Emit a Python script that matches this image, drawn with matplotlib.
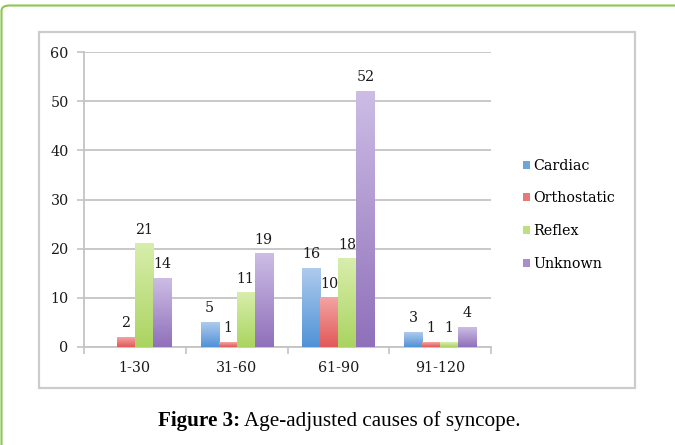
import numpy as np
import matplotlib
matplotlib.use('Agg')
import matplotlib.pyplot as plt
from matplotlib.patches import Patch, FancyBboxPatch, Rectangle
from matplotlib.colors import LinearSegmentedColormap

# data
groups = ['1-30', '31-60', '61-90', '91-120']
series = ['Cardiac', 'Orthostatic', 'Reflex', 'Unknown']
cardiac = [0, 5, 16, 3]
orthostatic = [2, 1, 10, 1]
reflex = [21, 11, 18, 1]
unknown = [14, 19, 52, 4]
values = [cardiac, orthostatic, reflex, unknown]

# bottom (dark) and top (light) colour of every series
dark = ['#5092d6', '#e25858', '#aad460', '#8f70ba']
light = ['#aecbee', '#f3a4a4', '#d8eeac', '#cdbde5']
mid = ['#6fa3dc', '#e97878', '#bddf80', '#a68fcb']

W, H = 675, 445
fig = plt.figure(figsize=(W / 100, H / 100), dpi=100)


def fx(px):
    return px / W


def fy(py):
    return 1 - py / H


# green frame (top and left only visible) and grey chart box
frame = FancyBboxPatch((fx(1.5), fy(470)), fx(720), fy(5.5) - fy(470),
                       boxstyle='round,pad=0,rounding_size=0.012',
                       transform=fig.transFigure, fill=False,
                       edgecolor='#8cc84b', linewidth=1.5, zorder=0)
fig.patches.append(frame)
box = Rectangle((fx(39), fy(388)), fx(635) - fx(39), fy(32) - fy(388),
                transform=fig.transFigure, fill=False,
                edgecolor='#cccccc', linewidth=1.6, zorder=0)
fig.patches.append(box)

ax = fig.add_axes([fx(84), fy(347), fx(491) - fx(84), fy(52) - fy(347)])
ax.set_facecolor('none')

x = np.arange(len(groups))
w = 0.177
grad = np.linspace(0, 1, 256).reshape(-1, 1)
tick_font = dict(family='DejaVu Serif', size=10.3, color='#1a1a1a')

for i, (name, vals) in enumerate(zip(series, values)):
    pos = x + (i - 1.5) * w
    bars = ax.bar(pos, vals, w, color=mid[i], linewidth=0, zorder=2)
    cmap = LinearSegmentedColormap.from_list(name, [dark[i], light[i]])
    for b, v in zip(bars, vals):
        if v == 0:
            continue
        x0, y0 = b.get_x(), b.get_y()
        ax.imshow(grad, cmap=cmap, origin='lower', aspect='auto',
                  extent=(x0, x0 + b.get_width(), y0, y0 + b.get_height()),
                  zorder=3, interpolation='bilinear')
        ax.annotate(str(v), (x0 + b.get_width() / 2, v), xytext=(0, 5),
                    textcoords='offset points', ha='center', va='bottom',
                    **tick_font)

ax.set_xlim(-0.5, len(groups) - 0.5)
ax.set_ylim(0, 60)
ax.set_yticks(range(0, 61, 10))
ax.yaxis.grid(True, color='#c4c4c4', linewidth=1.3, zorder=0)
ax.set_axisbelow(True)

ax.set_xticks(x)
ax.set_xticklabels(groups, fontdict=tick_font)
ax.set_xticks(np.arange(-0.5, len(groups), 1), minor=True)
ax.tick_params(axis='x', which='major', length=0, pad=10)
ax.tick_params(axis='x', which='minor', length=5, color='#c4c4c4', width=1.2)
ax.tick_params(axis='y', length=5, color='#c4c4c4', width=1.2, pad=6,
               labelsize=10.3, labelcolor='#1a1a1a')
for lab in ax.get_yticklabels():
    lab.set_family('DejaVu Serif')

for s in ['top', 'right']:
    ax.spines[s].set_visible(False)
for s in ['left', 'bottom']:
    ax.spines[s].set_color('#c4c4c4')
    ax.spines[s].set_linewidth(1.3)

handles = [Patch(facecolor=mid[i], edgecolor='none', label=series[i])
           for i in range(len(series))]
fig.legend(handles=handles, loc='upper left',
           bbox_to_anchor=(fx(510), fy(146)), frameon=False,
           handlelength=0.5, handleheight=0.5, handletextpad=0.2,
           labelspacing=1.3, prop=dict(family='DejaVu Serif', size=10.3))

# caption: bold part then regular part
renderer = fig.canvas.get_renderer()
cap1 = fig.text(fx(158), fy(421), 'Figure 3:', family='Liberation Serif',
                weight='bold', size=15.2, va='center', ha='left')
bb = cap1.get_window_extent(renderer)
fig.text(bb.x1 / W + fx(4), fy(421), 'Age-adjusted causes of syncope.',
         family='Liberation Serif', size=15.2, va='center', ha='left')

fig.savefig('out.png', dpi=100)
